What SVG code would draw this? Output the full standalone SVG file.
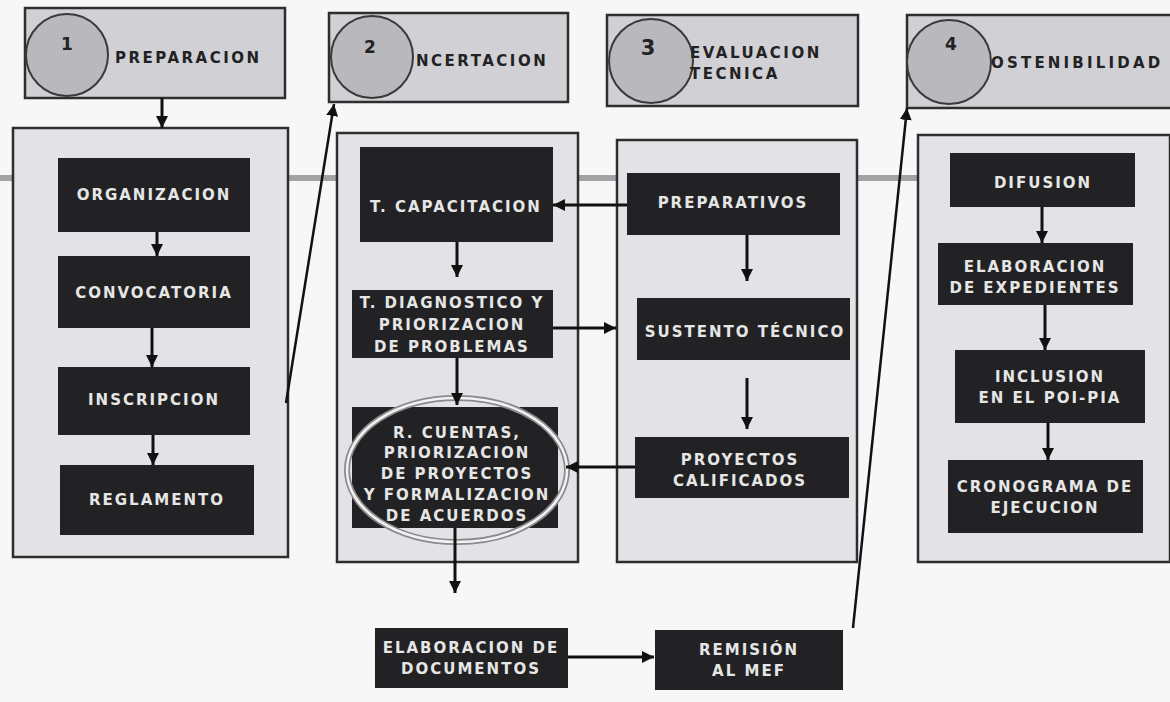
<svg xmlns="http://www.w3.org/2000/svg" width="1170" height="702" viewBox="0 0 1170 702">
<style>
.bg{fill:#f7f7f8}
.hdr{fill:#d0d0d5;stroke:#2e2e2e;stroke-width:2.5}
.circ{fill:#b8b8bd;stroke:#3a3a3a;stroke-width:2}
.panel{fill:#e3e3e7;stroke:#2e2e2e;stroke-width:2.5}
.box{fill:#222224}
.num{font-family:"DejaVu Sans",Verdana,sans-serif;font-weight:bold;font-size:17px;fill:#222;text-anchor:middle}
.ht{font-family:"DejaVu Sans",Verdana,sans-serif;font-weight:bold;font-size:15px;letter-spacing:2.5px;fill:#222}
.bt{font-family:"DejaVu Sans",Verdana,sans-serif;font-weight:bold;font-size:15px;letter-spacing:2px;fill:#e6e6e6;text-anchor:middle}
.band{stroke:#a3a3a6;stroke-width:6;fill:none}
.con{stroke:#111;stroke-width:3;fill:none;marker-end:url(#ah)}
.diag{stroke:#111;stroke-width:2.5;fill:none;marker-end:url(#ah)}
</style>
<defs>
<marker id="ah" markerUnits="userSpaceOnUse" markerWidth="14" markerHeight="14" refX="12" refY="7" orient="auto">
<path d="M0,1 L12,7 L0,13 Z" fill="#111"/>
</marker>
</defs>
<rect class="bg" x="0" y="0" width="1170" height="702"/>
<line class="band" x1="0" y1="178" x2="918" y2="178"/>

<g id="header1">
<rect class="hdr" x="25" y="8" width="260" height="90"/>
<circle class="circ" cx="67" cy="55" r="41"/>
<text class="num" x="67" y="50">1</text>
<text class="ht" x="115" y="63">PREPARACION</text>
</g>
<g id="header2">
<rect class="hdr" x="329" y="13" width="239" height="89"/>
<circle class="circ" cx="372" cy="57" r="41"/>
<text class="num" x="370" y="53">2</text>
<text class="ht" x="416" y="66">NCERTACION</text>
</g>
<g id="header3">
<rect class="hdr" x="607" y="15" width="251" height="91"/>
<circle class="circ" cx="651" cy="61" r="42"/>
<text class="num" x="648" y="55" style="font-size:21px">3</text>
<text class="ht" x="690" y="58">EVALUACION</text>
<text class="ht" x="690" y="79">TECNICA</text>
</g>
<g id="header4">
<rect class="hdr" x="907" y="15" width="270" height="93"/>
<circle class="circ" cx="949" cy="62" r="42"/>
<text class="num" x="951" y="50">4</text>
<text class="ht" x="991" y="68" style="letter-spacing:3.2px">OSTENIBILIDAD</text>
</g>

<g id="panel1">
<rect class="panel" x="13" y="128" width="275" height="429"/>
</g>
<g id="panel2">
<rect class="panel" x="337" y="133" width="241" height="429"/>
</g>
<g id="panel3">
<rect class="panel" x="617" y="140" width="240" height="422"/>
</g>
<g id="panel4">
<rect class="panel" x="918" y="135" width="252" height="427"/>
</g>

<g id="organizacion">
<rect class="box" x="58" y="158" width="192" height="74"/>
<text class="bt" x="154" y="200">ORGANIZACION</text>
</g>
<g id="convocatoria">
<rect class="box" x="58" y="256" width="192" height="72"/>
<text class="bt" x="154" y="298">CONVOCATORIA</text>
</g>
<g id="inscripcion">
<rect class="box" x="58" y="367" width="192" height="68"/>
<text class="bt" x="154" y="405">INSCRIPCION</text>
</g>
<g id="reglamento">
<rect class="box" x="60" y="465" width="194" height="70"/>
<text class="bt" x="157" y="505">REGLAMENTO</text>
</g>

<g id="t-capacitacion">
<rect class="box" x="360" y="147" width="193" height="95"/>
<text class="bt" x="456" y="212">T. CAPACITACION</text>
</g>
<g id="t-diagnostico">
<rect class="box" x="352" y="290" width="201" height="68"/>
<text class="bt" x="452" y="308">T. DIAGNOSTICO Y</text>
<text class="bt" x="452" y="330">PRIORIZACION</text>
<text class="bt" x="452" y="352">DE PROBLEMAS</text>
</g>
<g id="r-cuentas">
<rect class="box" x="352" y="407" width="206" height="121"/>
<ellipse cx="457" cy="470" rx="110" ry="72" fill="none" stroke="#8a8a8e" stroke-width="6"/>
<ellipse cx="457" cy="470" rx="110" ry="72" fill="none" stroke="#f2f2f2" stroke-width="2.5"/>
<text class="bt" x="457" y="438">R. CUENTAS,</text>
<text class="bt" x="457" y="458">PRIORIZACION</text>
<text class="bt" x="457" y="479">DE PROYECTOS</text>
<text class="bt" x="457" y="500">Y FORMALIZACION</text>
<text class="bt" x="457" y="521">DE ACUERDOS</text>
</g>

<g id="preparativos">
<rect class="box" x="627" y="173" width="213" height="62"/>
<text class="bt" x="733" y="208">PREPARATIVOS</text>
</g>
<g id="sustento">
<rect class="box" x="637" y="298" width="213" height="62"/>
<text class="bt" x="745" y="337">SUSTENTO TÉCNICO</text>
</g>
<g id="proyectos">
<rect class="box" x="635" y="437" width="214" height="61"/>
<text class="bt" x="740" y="465">PROYECTOS</text>
<text class="bt" x="740" y="486">CALIFICADOS</text>
</g>

<g id="difusion">
<rect class="box" x="950" y="153" width="185" height="54"/>
<text class="bt" x="1043" y="188">DIFUSION</text>
</g>
<g id="expedientes">
<rect class="box" x="938" y="243" width="195" height="62"/>
<text class="bt" x="1035" y="272">ELABORACION</text>
<text class="bt" x="1035" y="293">DE EXPEDIENTES</text>
</g>
<g id="inclusion">
<rect class="box" x="955" y="350" width="190" height="73"/>
<text class="bt" x="1050" y="382">INCLUSION</text>
<text class="bt" x="1050" y="403">EN EL POI-PIA</text>
</g>
<g id="cronograma">
<rect class="box" x="948" y="460" width="195" height="73"/>
<text class="bt" x="1045" y="492">CRONOGRAMA DE</text>
<text class="bt" x="1045" y="513">EJECUCION</text>
</g>

<g id="elab-documentos">
<rect class="box" x="375" y="628" width="193" height="60"/>
<text class="bt" x="471" y="653">ELABORACION DE</text>
<text class="bt" x="471" y="674">DOCUMENTOS</text>
</g>
<g id="remision">
<rect class="box" x="655" y="630" width="188" height="60"/>
<text class="bt" x="749" y="655">REMISIÓN</text>
<text class="bt" x="749" y="676">AL MEF</text>
</g>

<g id="connectors">
<line class="con" x1="162" y1="98" x2="162" y2="128"/>
<line class="con" x1="157" y1="232" x2="157" y2="256"/>
<line class="con" x1="152" y1="328" x2="152" y2="367"/>
<line class="con" x1="153" y1="435" x2="153" y2="465"/>
<line class="diag" x1="286" y1="403" x2="334" y2="104"/>
<line class="con" x1="627" y1="205" x2="553" y2="205"/>
<line class="con" x1="457" y1="242" x2="457" y2="277"/>
<line class="con" x1="553" y1="328" x2="616" y2="328"/>
<line class="con" x1="457" y1="358" x2="457" y2="405"/>
<line class="con" x1="635" y1="467" x2="566" y2="467"/>
<line class="con" x1="455" y1="528" x2="455" y2="593"/>
<line class="con" x1="747" y1="235" x2="747" y2="281"/>
<line class="con" x1="747" y1="378" x2="747" y2="429"/>
<line class="con" x1="568" y1="657" x2="654" y2="657"/>
<line class="diag" x1="853" y1="628" x2="907" y2="108"/>
<line class="con" x1="1042" y1="207" x2="1042" y2="243"/>
<line class="con" x1="1045" y1="305" x2="1045" y2="350"/>
<line class="con" x1="1048" y1="423" x2="1048" y2="460"/>
</g>
</svg>
